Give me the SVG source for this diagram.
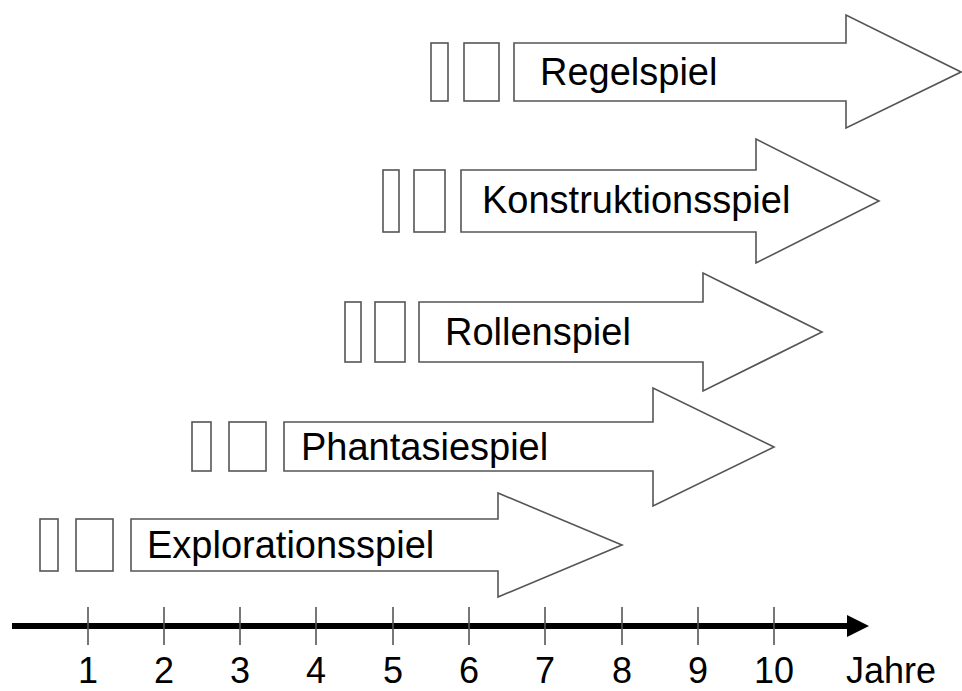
<svg xmlns="http://www.w3.org/2000/svg" width="962" height="691" viewBox="0 0 962 691">
<style>
.box{fill:#fff;stroke:#555;stroke-width:1.6}
.lbl{font-family:"Liberation Sans",Arial,sans-serif;font-size:38px;fill:#000}
.ax{font-family:"Liberation Sans",Arial,sans-serif;font-size:36px;fill:#000}
.tick{stroke:#555;stroke-width:1.6}
</style>
<rect width="962" height="691" fill="#fff"/>
<g id="regelspiel">
<rect class="box" x="431" y="43" width="17" height="58"/>
<rect class="box" x="464" y="43" width="35" height="58"/>
<polygon class="box" points="514,43 846,43 846,15 961,72 846,128 846,101 514,101"/>
<text class="lbl" x="540" y="85">Regelspiel</text>
</g>
<g id="konstruktionsspiel">
<rect class="box" x="383" y="170" width="16" height="62"/>
<rect class="box" x="414" y="170" width="31" height="62"/>
<polygon class="box" points="461,170 756,170 756,139 879,201 756,263 756,232 461,232"/>
<text class="lbl" x="482" y="213">Konstruktionsspiel</text>
</g>
<g id="rollenspiel">
<rect class="box" x="345" y="302" width="16" height="60"/>
<rect class="box" x="375" y="302" width="30" height="60"/>
<polygon class="box" points="419,302 703,302 703,273 822,332 703,391 703,362 419,362"/>
<text class="lbl" x="445" y="345">Rollenspiel</text>
</g>
<g id="phantasiespiel">
<rect class="box" x="192" y="422" width="19" height="49"/>
<rect class="box" x="229" y="422" width="37" height="49"/>
<polygon class="box" points="284,422 653,422 653,388 774,447 653,506 653,471 284,471"/>
<text class="lbl" x="301" y="460">Phantasiespiel</text>
</g>
<g id="explorationsspiel">
<rect class="box" x="40" y="519" width="18" height="52"/>
<rect class="box" x="76" y="519" width="37" height="52"/>
<polygon class="box" points="131,519 498,519 498,493 622,545 498,597 498,571 131,571"/>
<text class="lbl" x="147" y="558">Explorationsspiel</text>
</g>
<g id="axis">
<line x1="12" y1="626" x2="850" y2="626" stroke="#000" stroke-width="6"/>
<polygon points="847,615 869,626 847,637" fill="#000"/>
<g>
<line class="tick" x1="88" y1="607" x2="88" y2="645"/>
<line class="tick" x1="164" y1="607" x2="164" y2="645"/>
<line class="tick" x1="240" y1="607" x2="240" y2="645"/>
<line class="tick" x1="316" y1="607" x2="316" y2="645"/>
<line class="tick" x1="393" y1="607" x2="393" y2="645"/>
<line class="tick" x1="469" y1="607" x2="469" y2="645"/>
<line class="tick" x1="545" y1="607" x2="545" y2="645"/>
<line class="tick" x1="622" y1="607" x2="622" y2="645"/>
<line class="tick" x1="698" y1="607" x2="698" y2="645"/>
<line class="tick" x1="774" y1="607" x2="774" y2="645"/>
</g>
<g class="ax" text-anchor="middle">
<text x="88" y="683">1</text>
<text x="164" y="683">2</text>
<text x="240" y="683">3</text>
<text x="316" y="683">4</text>
<text x="393" y="683">5</text>
<text x="469" y="683">6</text>
<text x="545" y="683">7</text>
<text x="622" y="683">8</text>
<text x="698" y="683">9</text>
<text x="774" y="683">10</text>
</g>
<text class="ax" x="846" y="683">Jahre</text>
</g>
</svg>
